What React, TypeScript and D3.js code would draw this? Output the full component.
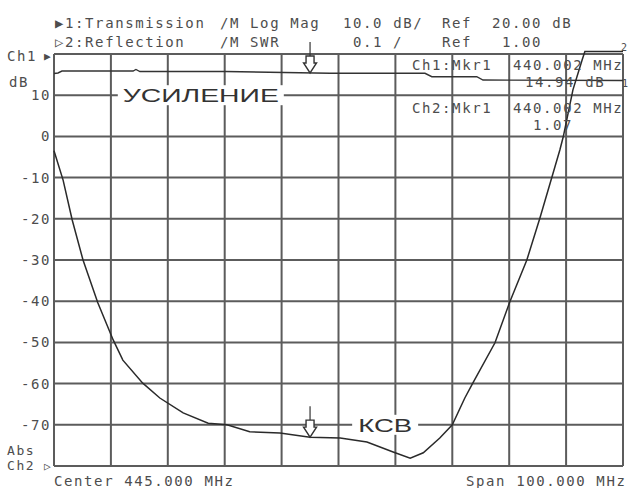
import React from 'react';
import * as d3 from 'd3';

// Ch2 – SWR (КСВ) trace
const swrFreq = [395, 396.6, 398.2, 400.1, 402.7, 405.4, 407.1, 410.6, 413.6, 417.7, 422.1, 425.4, 429.4, 434.7, 440.0, 445.3, 450.0, 454.6, 457.6, 459.9, 462.8, 465.0, 467.2, 468.6, 472.5, 475.1, 478.1, 480.4, 482.5, 483.9, 484.5, 486.2, 487.8, 488.3, 495];
const swrValues = [1.765, 1.694, 1.597, 1.5, 1.396, 1.306, 1.257, 1.201, 1.165, 1.129, 1.104, 1.1, 1.083, 1.08, 1.07, 1.068, 1.058, 1.034, 1.019, 1.032, 1.068, 1.1, 1.165, 1.201, 1.299, 1.398, 1.5, 1.602, 1.701, 1.767, 1.799, 1.913, 1.985, 2.006, 2.006];

// Ch1 – transmission gain (УСИЛЕНИЕ), dB
const gainFreq = [395, 395.7, 396.4, 408.9, 409.4, 410.1, 425.1, 443.5, 460.2, 461.4, 469.3, 470.4, 495];
const gainValues = [15.27, 15.39, 15.87, 15.87, 16.24, 15.75, 15.75, 15.32, 15.32, 14.49, 14.49, 13.69, 13.57];

const dbTicks = [10, 0, -10, -20, -30, -40, -50, -60, -70];
const markerFreq = 440;

const headerLine1 = [
  { x: 55, t: '▶1:Transmission' },
  { x: 220, t: '/M Log Mag' },
  { x: 343, t: '10.0 dB/' },
  { x: 442, t: 'Ref' },
  { x: 492, t: '20.00 dB' },
];
const headerLine2 = [
  { x: 55, t: '▷2:Reflection' },
  { x: 220, t: '/M SWR' },
  { x: 353, t: '0.1 /' },
  { x: 442, t: 'Ref' },
  { x: 502, t: '1.00' },
];

const W = 629;
const H = 488;
const plotL = 54, plotR = 623, plotT = 54, plotB = 466;

const mono = {
  fontFamily: '"DejaVu Sans Mono", monospace',
  fontSize: 14,
  letterSpacing: 1.6,
  fill: '#4d4d4d',
};

const App = () => {
  const x = d3.scaleLinear().domain([395, 495]).range([plotL, plotR]);
  const yDb = d3.scaleLinear().domain([-80, 20]).range([plotB, plotT]);
  const ySwr = d3.scaleLinear().domain([1, 2]).range([plotB, plotT]);

  const gainLine = d3.line<number>()
    .x((d, i) => x(gainFreq[i]))
    .y((d) => yDb(d));
  const swrLine = d3.line<number>()
    .x((d, i) => x(swrFreq[i]))
    .y((d) => ySwr(d));

  const gainAt = d3.scaleLinear().domain(gainFreq).range(gainValues)(markerFreq);
  const swrAt = d3.scaleLinear().domain(swrFreq).range(swrValues)(markerFreq);

  const gridX = d3.range(0, 11).map((i) => 395 + i * 10);
  const gridY = d3.range(0, 11).map((i) => -80 + i * 10);

  // one path for the whole graticule
  const gridPath =
    gridX.map((f) => `M${x(f)},${plotT}V${plotB}`).join('') +
    gridY.map((v) => `M${plotL},${yDb(v)}H${plotR}`).join('');

  const marker = (mx: number, my: number) => (
    <g transform={`translate(${mx},${my})`}>
      <line x1={0} y1={-31} x2={0} y2={-17} stroke="#333" strokeWidth={1.2} />
      <path d="M-4,-17 L4,-17 L4,-10 L6.5,-10 L0,0 L-6.5,-10 L-4,-10 Z" fill="white" stroke="#333" strokeWidth={1.4} />
    </g>
  );

  const gainLabelX = x(420.8);
  const swrLabelX = x(453.2);

  return (
    <svg width={W} height={H} style={{ position: 'absolute', left: 0, top: 0, background: 'white' }}>
      <rect x={0} y={0} width={W} height={H} fill="white" />

      {/* grid */}
      <path d={gridPath} fill="none" stroke="#5c5c5c" strokeWidth={2} />

      {/* annotation labels with white background */}
      <rect x={gainLabelX - 83} y={yDb(10) - 10} width={166} height={20} fill="white" />
      <text x={gainLabelX} y={yDb(10) + 7} textAnchor="middle" fontFamily="Liberation Sans, Arial, sans-serif" fontSize={19} fill="#333" textLength={156} lengthAdjust="spacingAndGlyphs">УСИЛЕНИЕ</text>
      <rect x={swrLabelX - 33} y={yDb(-70) - 10} width={66} height={20} fill="white" />
      <text x={swrLabelX} y={yDb(-70) + 7} textAnchor="middle" fontFamily="Liberation Sans, Arial, sans-serif" fontSize={19} fill="#333" textLength={54} lengthAdjust="spacingAndGlyphs">КСВ</text>

      {/* traces */}
      <path d={gainLine(gainValues) || ''} fill="none" stroke="#333" strokeWidth={1.4} />
      <path d={swrLine(swrValues) || ''} fill="none" stroke="#2a2a2a" strokeWidth={1.5} />

      {marker(x(markerFreq), yDb(gainAt))}
      {marker(x(markerFreq), ySwr(swrAt))}

      {/* header */}
      {headerLine1.map((h) => (
        <text key={'a' + h.x} x={h.x} y={28} style={mono}>{h.t}</text>
      ))}
      {headerLine2.map((h) => (
        <text key={'b' + h.x} x={h.x} y={47} style={mono}>{h.t}</text>
      ))}

      {/* y axis labels */}
      {dbTicks.map((v) => (
        <text key={'t' + v} x={51} y={yDb(v) + 5} textAnchor="end" style={mono}>{String(v)}</text>
      ))}
      <text x={7} y={61} style={mono}>Ch1</text>
      <text x={44} y={60} style={{ ...mono, fontSize: 11 }}>▶</text>
      <text x={9} y={87} style={mono}>dB</text>
      <text x={7} y={455} style={{ ...mono, fontSize: 13 }}>Abs</text>
      <text x={7} y={470} style={{ ...mono, fontSize: 13 }}>Ch2</text>
      <text x={44} y={470} style={{ ...mono, fontSize: 11 }}>▷</text>

      {/* marker readout */}
      <text x={412} y={70} style={mono}>Ch1:Mkr1</text>
      <text x={513} y={70} style={mono}>440.002 MHz</text>
      <text x={525} y={87} style={mono}>14.94 dB</text>
      <text x={412} y={113} style={mono}>Ch2:Mkr1</text>
      <text x={513} y={113} style={mono}>440.002 MHz</text>
      <text x={533} y={130} style={mono}>1.07</text>

      {/* trace end tags */}
      <text x={621} y={51} style={{ ...mono, fontSize: 10, letterSpacing: 0 }}>2</text>
      <text x={622} y={87} style={{ ...mono, fontSize: 10, letterSpacing: 0 }}>1</text>

      {/* footer */}
      <text x={54} y={486} style={mono}>Center 445.000 MHz</text>
      <text x={466} y={486} style={mono}>Span 100.000 MHz</text>
    </svg>
  );
};

export default App;
